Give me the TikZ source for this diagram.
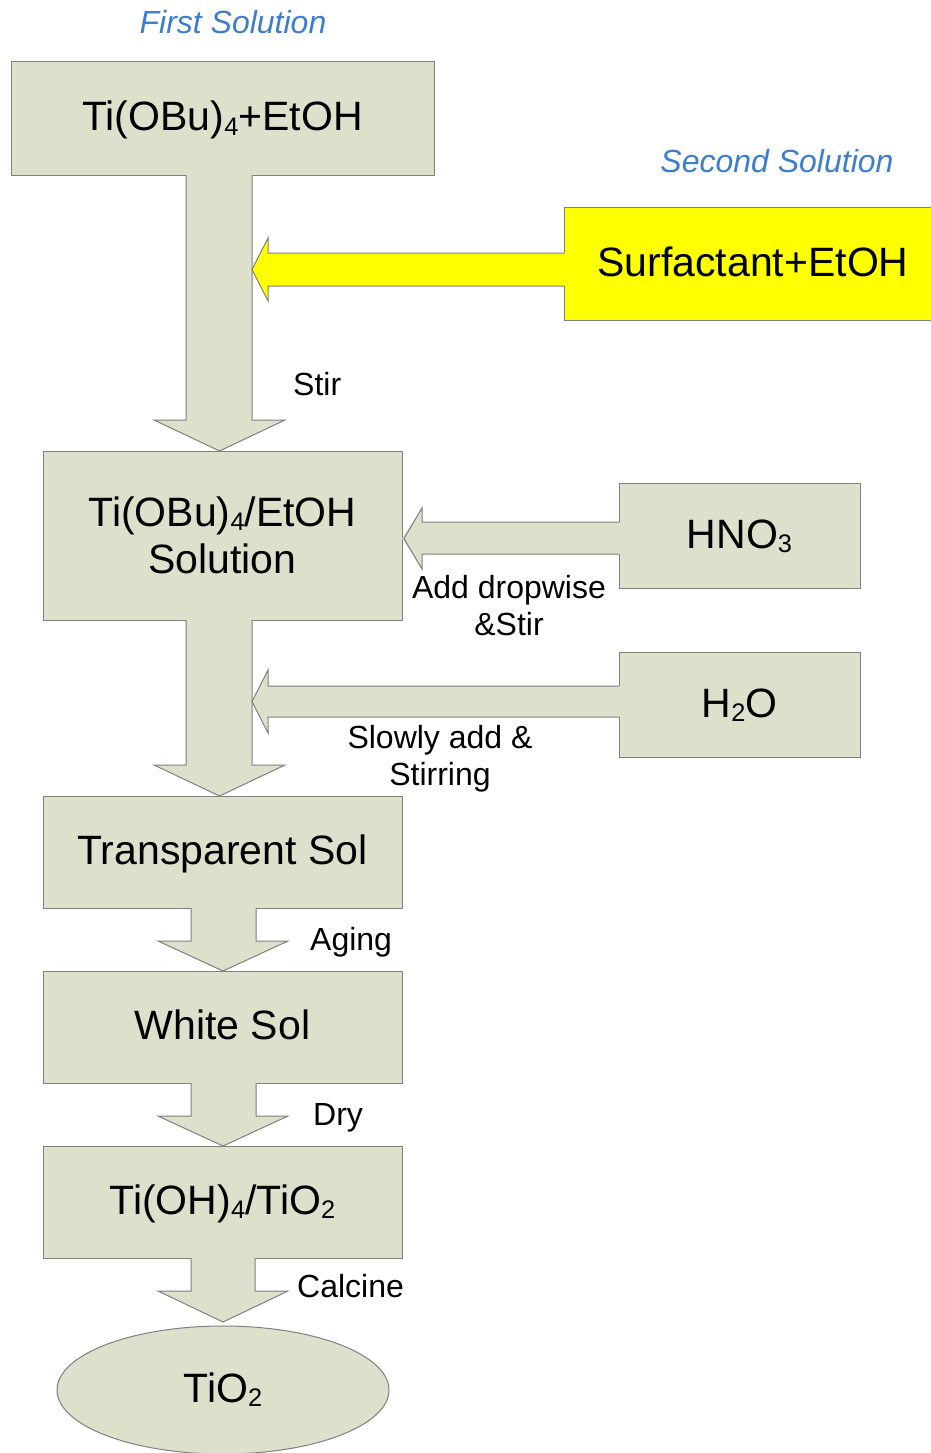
\documentclass[tikz,border=0pt]{standalone}
\usepackage{fontspec}
\usepackage{graphicx}
\setmainfont{Liberation Sans}
\usetikzlibrary{calc,shapes.geometric}
\definecolor{boxc}{RGB}{221,224,203}
\definecolor{edgec}{RGB}{128,128,128}
\definecolor{titc}{RGB}{60,125,205}
\definecolor{yel}{RGB}{255,255,0}
\newcommand{\sbs}[1]{\raisebox{-0.1em}{\scalebox{0.62}{#1}}}
\begin{document}
\begin{tikzpicture}[x=1pt,y=-1pt,
  box/.style={draw=edgec, line width=1pt, fill=boxc, rectangle, outer sep=0pt, inner sep=0pt,
              font=\fontsize{41}{47}\selectfont, align=center},
  one/.style={text height=29pt, text depth=4pt},
  lbl/.style={font=\fontsize{32}{37}\selectfont, inner sep=0pt, anchor=base west},
  lbl2/.style={font=\fontsize{32}{37}\selectfont, inner sep=0pt, align=center, anchor=base},
  tit/.style={font=\fontsize{32}{37}\selectfont\itshape, text=titc, inner sep=0pt, anchor=base},
  edge/.style={draw=edgec, line width=1pt, line join=miter}]
\useasboundingbox (0,0) rectangle (930,1453);

% titles
\node[tit] (t1) at (233,34) {First Solution};
\node[tit] (t2) at (777,172) {Second Solution};

% boxes
\node[box,one, minimum width=423pt, minimum height=113pt] (b1) at (222.5,118.5) {Ti(OBu)\sbs{4}+EtOH};
\node[box,one, fill=yel, minimum width=378pt, minimum height=113pt] (y) at (753,263.5) {Surfactant+EtOH};
\node[box, minimum width=359pt, minimum height=169pt] (b2) at (222.5,535.5) {Ti(OBu)\sbs{4}/EtOH\\Solution};
\node[box,one, minimum width=241pt, minimum height=105pt] (hno) at (739.5,535.5) {HNO\sbs{3}};
\node[box,one, minimum width=241pt, minimum height=105pt] (h2o) at (739.5,704.5) {H\sbs{2}O};
\node[box,one, minimum width=359pt, minimum height=112pt] (b3) at (222.5,852) {Transparent Sol};
\node[box,one, minimum width=359pt, minimum height=112pt] (b4) at (222.5,1027) {White Sol};
\node[box,one, minimum width=359pt, minimum height=112pt] (b5) at (222.5,1202) {Ti(OH)\sbs{4}/TiO\sbs{2}};
\node[box,one, ellipse, minimum width=332pt, minimum height=128pt] (ell) at (223,1390) {TiO\sbs{2}};

% arrow b1 -> b2
\fill[boxc] (186,165) -- (186,420) -- (154,420) -- (219.5,451) -- (285,420) -- (252,420) -- (252,165) -- cycle;
\draw[edge] (b1.south -| 186,0) -- (186,420) -- (154,420) -- (b2.north -| 219.5,0) -- (285,420) -- (252,420) -- (b1.south -| 252,0);

% yellow arrow into shaft
\coordinate (j1) at (252,269.5);
\fill[yel] (575,253) -- (268,253) -- (268,238) -- (j1) -- (268,301) -- (268,286) -- (575,286) -- cycle;
\draw[edge] (y.west |- 0,253) -- (268,253) -- (268,238) -- (j1) -- (268,301) -- (268,286) -- (y.west |- 0,286);

% HNO3 arrow -> b2
\fill[boxc] (630,522) -- (422,522) -- (422,508) -- (b2.east |- 0,538.5) -- (422,569) -- (422,554) -- (630,554) -- cycle;
\draw[edge] (hno.west |- 0,522) -- (422,522) -- (422,508) -- ([xshift=2pt]b2.east |- 0,538.5) -- (422,569) -- (422,554) -- (hno.west |- 0,554);

% arrow b2 -> b3
\fill[boxc] (186,610) -- (186,765) -- (154,765) -- (219.5,796) -- (285,765) -- (252,765) -- (252,610) -- cycle;
\draw[edge] (b2.south -| 186,0) -- (186,765) -- (154,765) -- (b3.north -| 219.5,0) -- (285,765) -- (252,765) -- (b2.south -| 252,0);

% H2O arrow into shaft
\coordinate (j2) at (252,701.5);
\fill[boxc] (630,686) -- (268,686) -- (268,670) -- (j2) -- (268,733) -- (268,717) -- (630,717) -- cycle;
\draw[edge] (h2o.west |- 0,686) -- (268,686) -- (268,670) -- (j2) -- (268,733) -- (268,717) -- (h2o.west |- 0,717);

% arrow b3 -> b4
\fill[boxc] (191,900) -- (191,941) -- (158,941) -- (223,971) -- (288,941) -- (256,941) -- (256,900) -- cycle;
\draw[edge] (b3.south -| 191,0) -- (191,941) -- (158,941) -- (b4.north -| 223,0) -- (288,941) -- (256,941) -- (b3.south -| 256,0);

% arrow b4 -> b5
\fill[boxc] (191,1075) -- (191,1116) -- (158,1116) -- (223,1146) -- (288,1116) -- (256,1116) -- (256,1075) -- cycle;
\draw[edge] (b4.south -| 191,0) -- (191,1116) -- (158,1116) -- (b5.north -| 223,0) -- (288,1116) -- (256,1116) -- (b4.south -| 256,0);

% arrow b5 -> ellipse
\coordinate (j3) at ($(ell.north)+(0,-4)$);
\fill[boxc] (191,1250) -- (191,1291) -- (158,1291) -- (j3) -- (288,1291) -- (255,1291) -- (255,1250) -- cycle;
\draw[edge] (b5.south -| 191,0) -- (191,1291) -- (158,1291) -- (j3) -- (288,1291) -- (255,1291) -- (b5.south -| 255,0);

% labels
\node[lbl] (stir) at (293,395) {Stir};
\node[lbl2] (add) at (509,635) {Add dropwise\\\&Stir};
\node[lbl2] (slow) at (440,785) {Slowly add \&\\Stirring};
\node[lbl] (aging) at (310,950) {Aging};
\node[lbl] (dry) at (313,1125) {Dry};
\node[lbl] (calc) at (297,1297) {Calcine};
\end{tikzpicture}
\end{document}
